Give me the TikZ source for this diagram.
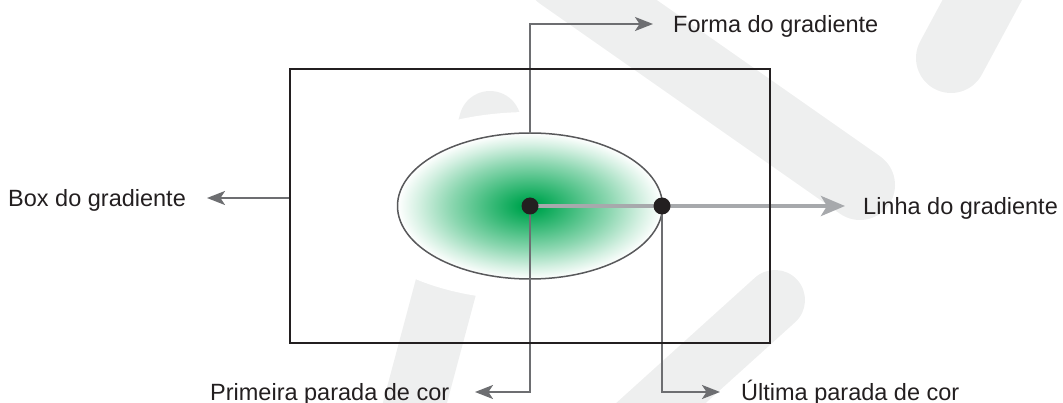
\documentclass[tikz,border=0pt]{standalone}
\usepackage{fontspec}
\setmainfont{Liberation Sans}
\usetikzlibrary{arrows.meta,shapes.geometric}
\definecolor{ink}{HTML}{231F20}
\definecolor{conncol}{HTML}{6D6E71}
\definecolor{glinecol}{HTML}{A7A9AC}
\definecolor{wm}{HTML}{EEEFEF}
\definecolor{gr}{HTML}{00A651}
\definecolor{ellcol}{HTML}{58595B}
\pgfdeclareradialshading{glow}{\pgfpoint{0bp}{0bp}}{color(0bp)=(gr); color(2bp)=(gr); color(8bp)=(gr!75!white); color(15bp)=(gr!45!white); color(21bp)=(gr!17!white); color(25bp)=(white); color(50bp)=(white)}
\pgfdeclarelayer{back}
\pgfdeclarelayer{mid}
\pgfsetlayers{back,mid,main}
\begin{document}
\begin{tikzpicture}[x=1pt,y=-1pt,
  conn/.style={draw=conncol, line width=2pt, -{Stealth[length=18pt,width=14pt,inset=4.5pt]}},
  gconn/.style={draw=glinecol, line width=4pt, -{Stealth[length=24pt,width=20pt,inset=6pt]}},
  dotnode/.style={circle, fill=ink, minimum size=17pt, inner sep=0pt},
  lab/.style={font=\fontsize{23.5}{28}\selectfont, text=ink, inner sep=0pt, anchor=base west},
  wmband/.style={draw=wm, line cap=round}]
\useasboundingbox (0,0) rectangle (1063,403);
\begin{pgfonlayer}{back}
  \begin{scope}
    \clip (0,0) rectangle (1063,403);
    \draw[wmband, line width=70pt] (560,-25) -- (860,185);
    \draw[wmband, line width=70pt] (993,-20) -- (951,58);
    \draw[wmband, line width=62pt] (490,122) -- (405,440);
    \draw[wmband, line width=60pt] (620,440) -- (775,300);
  \end{scope}
  \fill[white] (530,206) ellipse [x radius=182pt, y radius=94pt];
  \node[ellipse, draw=ellcol, line width=1.5pt, minimum width=265pt, minimum height=146pt,
        inner sep=0pt, shade, shading=glow] (ell) at (530,206) {};
\end{pgfonlayer}
\node[draw=ink, line width=2pt, minimum width=480pt, minimum height=274pt, inner sep=0pt] (box) at (530,206) {};
\node[dotnode] (d1) at (530,206) {};
\node[dotnode] (d2) at (662,206) {};
\node[lab] (forma) at (673,33) {Forma do gradiente};
\node[lab] (boxlab) at (8,206.5) {Box do gradiente};
\node[lab] (linha) at (863,215) {Linha do gradiente};
\node[lab] (prim) at (210,400) {Primeira parada de cor};
\node[lab] (ult) at (741,400) {Última parada de cor};
\coordinate (ft) at (653,24);
\coordinate (bt) at (207,198);
\coordinate (lt) at (845,206);
\coordinate (pt) at (475,392);
\coordinate (ut) at (720,392);
\begin{pgfonlayer}{mid}
  \draw[conn] (ell.north) |- (ft);
  \draw[conn] (box.west |- bt) -- (bt);
  \draw[gconn] (d1.center) -- (lt);
  \draw[conn] (d1.center) |- (pt);
  \draw[conn] (d2.center) |- (ut);
\end{pgfonlayer}
\end{tikzpicture}
\end{document}
